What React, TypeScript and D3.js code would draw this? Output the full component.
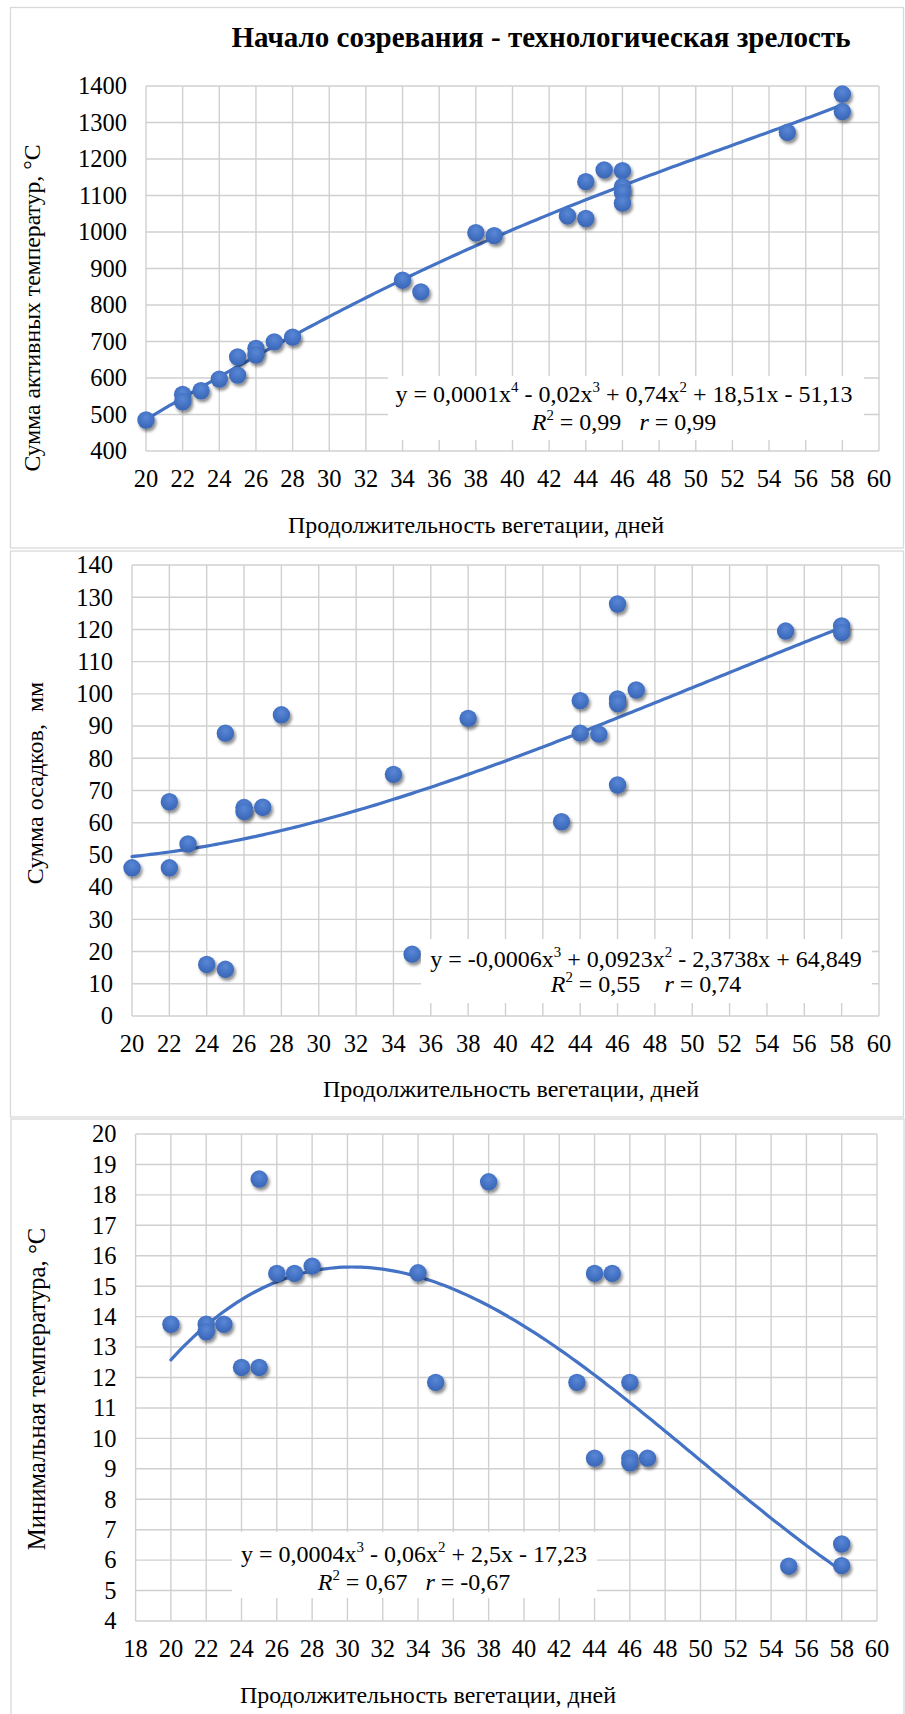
import React from "react";
import * as d3 from "d3";

const FONT = "'Liberation Serif', 'Times New Roman', 'DejaVu Serif', serif";
const BLUE = "#4472C4";
const GRID = "#d0d0d0";

// Sum of active temperatures vs. vegetation length
const activeDays = [20, 22, 22, 23, 24, 25, 25, 26, 26, 27, 28, 34, 35, 38, 39, 43, 44, 44, 45, 46, 46, 46, 46, 55, 58, 58];
const activeSums = [485, 555, 535, 565, 597, 658, 608, 681, 663, 699, 712, 868, 836, 998, 990, 1044, 1037, 1138, 1170, 1168, 1124, 1108, 1079, 1273, 1378, 1330];

// Precipitation sum vs. vegetation length
const rainDays = [20, 22, 22, 23, 24, 25, 25, 26, 26, 27, 28, 34, 35, 38, 43, 44, 44, 45, 46, 46, 46, 46, 47, 55, 58, 58];
const rainSums = [46, 66.5, 46, 53.4, 16, 14.5, 87.8, 64.7, 63.5, 64.8, 93.5, 75, 19.2, 92.4, 60.3, 97.9, 87.8, 87.5, 127.9, 98.4, 97, 71.7, 101.2, 119.5, 121.1, 119];
// cubic trend coefficients, constant term first
const rainTrendCoefs = [64.849, -2.3738, 0.0923, -0.0006];

// Minimal temperature vs. vegetation length
const minDays = [20, 22, 22, 23, 24, 25, 25, 26, 27, 28, 34, 35, 38, 43, 44, 44, 45, 46, 46, 46, 47, 55, 58, 58];
const minTemps = [13.75, 13.75, 13.5, 13.75, 12.33, 12.33, 18.52, 15.42, 15.42, 15.66, 15.44, 11.84, 18.43, 11.84, 15.42, 9.35, 15.42, 11.84, 9.35, 9.2, 9.35, 5.8, 6.53, 5.82];

// Axis ticks
const daysTicks20 = [20, 22, 24, 26, 28, 30, 32, 34, 36, 38, 40, 42, 44, 46, 48, 50, 52, 54, 56, 58, 60];
const daysTicks18 = [18, 20, 22, 24, 26, 28, 30, 32, 34, 36, 38, 40, 42, 44, 46, 48, 50, 52, 54, 56, 58, 60];
const activeTicks = [400, 500, 600, 700, 800, 900, 1000, 1100, 1200, 1300, 1400];
const rainTicks = [0, 10, 20, 30, 40, 50, 60, 70, 80, 90, 100, 110, 120, 130, 140];
const minTicks = [4, 5, 6, 7, 8, 9, 10, 11, 12, 13, 14, 15, 16, 17, 18, 19, 20];

const chartTitle = "Начало созревания - технологическая зрелость";
const xAxisTitle = "Продолжительность вегетации, дней";

type Seg = { t: string; sup?: boolean; it?: boolean };

// least-squares polynomial trend (x centred for numerical stability)
function polyFit(xs: number[], ys: number[], degree: number) {
  const c = 40, s = 20;
  const n = degree + 1;
  const A: number[][] = Array.from({ length: n }, () => new Array(n + 1).fill(0));
  xs.forEach((x, k) => {
    const t = (x - c) / s;
    for (let i = 0; i < n; i++) {
      for (let j = 0; j < n; j++) A[i][j] += Math.pow(t, i + j);
      A[i][n] += ys[k] * Math.pow(t, i);
    }
  });
  for (let col = 0; col < n; col++) {
    let piv = col;
    for (let r = col + 1; r < n; r++) if (Math.abs(A[r][col]) > Math.abs(A[piv][col])) piv = r;
    [A[col], A[piv]] = [A[piv], A[col]];
    for (let r = 0; r < n; r++) {
      if (r === col) continue;
      const f = A[r][col] / A[col][col];
      for (let k = col; k <= n; k++) A[r][k] -= f * A[col][k];
    }
  }
  const coef = A.map((row, i) => row[n] / row[i]);
  return (x: number) => {
    const t = (x - c) / s;
    return coef.reduce((acc, a, i) => acc + a * Math.pow(t, i), 0);
  };
}

const polyEval = (coefs: number[]) => (x: number) =>
  coefs.reduce((acc, a, i) => acc + a * Math.pow(x, i), 0);

function EqLine({ x, y, segs, size }: { x: number; y: number; segs: Seg[]; size: number }) {
  let raised = false;
  const shift = size * 0.4;
  return (
    <text x={x} y={y} textAnchor="middle" fontSize={size} style={{ whiteSpace: "pre" }}>
      {segs.map((sg, i) => {
        let dy = 0;
        if (sg.sup && !raised) { dy = -shift; raised = true; }
        else if (!sg.sup && raised) { dy = shift; raised = false; }
        return (
          <tspan key={i} dy={dy || undefined} fontSize={sg.sup ? size * 0.62 : undefined}
            fontStyle={sg.it ? "italic" : undefined}>{sg.t}</tspan>
        );
      })}
    </text>
  );
}

type PanelCfg = {
  frame: [number, number, number, number];
  plot: { l: number; r: number; t: number; b: number };
  xDom: [number, number];
  yDom: [number, number];
  xTicks: number[];
  yTicks: number[];
  xs: number[];
  ys: number[];
  trend: (x: number) => number;
  box: { x: number; y: number; w: number; h: number };
  eqX: number;
  eqY: [number, number];
  eq1: Seg[];
  eq2: Seg[];
  xTitle: { x: number; y: number };
  yTitle: { x: number; y: number; size: number; text: string };
};

function Panel({ cfg }: { cfg: PanelCfg }) {
  const { plot } = cfg;
  const x = d3.scaleLinear().domain(cfg.xDom).range([plot.l, plot.r]);
  const y = d3.scaleLinear().domain(cfg.yDom).range([plot.b, plot.t]);
  const lo = d3.min(cfg.xs)!, hi = d3.max(cfg.xs)!;
  const samples = d3.range(lo, hi + 0.001, 0.25);
  const line = d3.line<number>().x((d) => x(d)).y((d) => y(cfg.trend(d)))(samples) || "";
  return (
    <g>
      <rect x={cfg.frame[0]} y={cfg.frame[1]} width={cfg.frame[2]} height={cfg.frame[3]}
        fill="#fff" stroke="#d9d9d9" strokeWidth={1.3} />
      {cfg.xTicks.map((t) => (
        <line key={"vx" + t} x1={x(t)} x2={x(t)} y1={plot.t} y2={plot.b} stroke={GRID} strokeWidth={1.4} />
      ))}
      {cfg.yTicks.map((t) => (
        <line key={"hy" + t} x1={plot.l} x2={plot.r} y1={y(t)} y2={y(t)} stroke={GRID} strokeWidth={1.4} />
      ))}
      {cfg.yTicks.map((t) => (
        <text key={"ly" + t} x={plot.l - 19} y={y(t)} dy="0.34em" textAnchor="end" fontSize={24.5}>{t}</text>
      ))}
      {cfg.xTicks.map((t) => (
        <text key={"lx" + t} x={x(t)} y={plot.b + 36} textAnchor="middle" fontSize={24.5}>{t}</text>
      ))}
      <path d={line} fill="none" stroke={BLUE} strokeWidth={3.2} strokeLinecap="round" />
      {cfg.xs.map((d, i) => (
        <circle key={"p" + i} cx={x(d)} cy={y(cfg.ys[i])} r={8.7} fill="url(#mfill)" filter="url(#mshadow)" />
      ))}
      <rect x={cfg.box.x} y={cfg.box.y} width={cfg.box.w} height={cfg.box.h} fill="#fff" />
      <EqLine x={cfg.eqX} y={cfg.eqY[0]} segs={cfg.eq1} size={24} />
      <EqLine x={cfg.eqX} y={cfg.eqY[1]} segs={cfg.eq2} size={24} />
      <text x={cfg.xTitle.x} y={cfg.xTitle.y} textAnchor="middle" fontSize={24}>{xAxisTitle}</text>
      <text transform={`translate(${cfg.yTitle.x},${cfg.yTitle.y}) rotate(-90)`} textAnchor="middle"
        fontSize={cfg.yTitle.size} style={{ whiteSpace: "pre" }}>{cfg.yTitle.text}</text>
    </g>
  );
}

const panels: PanelCfg[] = [
  {
    frame: [10.5, 7.5, 893, 540.5],
    plot: { l: 146, r: 879, t: 86, b: 451 },
    xDom: [20, 60], yDom: [400, 1400],
    xTicks: daysTicks20, yTicks: activeTicks,
    xs: activeDays, ys: activeSums,
    trend: polyFit(activeDays, activeSums, 4),
    box: { x: 388, y: 376, w: 476, h: 64 },
    eqX: 624, eqY: [402, 430],
    eq1: [{ t: "y = 0,0001x" }, { t: "4", sup: true }, { t: " - 0,02x" }, { t: "3", sup: true },
      { t: " + 0,74x" }, { t: "2", sup: true }, { t: " + 18,51x - 51,13" }],
    eq2: [{ t: "R", it: true }, { t: "2", sup: true }, { t: " = 0,99   " }, { t: "r", it: true }, { t: " = 0,99" }],
    xTitle: { x: 476, y: 533 },
    yTitle: { x: 40, y: 308, size: 23.7, text: "Сумма активных температур, °C" },
  },
  {
    frame: [10.5, 551, 893, 566],
    plot: { l: 132, r: 879, t: 565, b: 1016 },
    xDom: [20, 60], yDom: [0, 140],
    xTicks: daysTicks20, yTicks: rainTicks,
    xs: rainDays, ys: rainSums,
    trend: polyEval(rainTrendCoefs),
    box: { x: 421, y: 939, w: 451, h: 64 },
    eqX: 646, eqY: [967, 992],
    eq1: [{ t: "y = -0,0006x" }, { t: "3", sup: true }, { t: " + 0,0923x" }, { t: "2", sup: true },
      { t: " - 2,3738x + 64,849" }],
    eq2: [{ t: "R", it: true }, { t: "2", sup: true }, { t: " = 0,55    " }, { t: "r", it: true }, { t: " = 0,74" }],
    xTitle: { x: 511, y: 1097 },
    yTitle: { x: 43, y: 783, size: 24, text: "Сумма осадков,  мм" },
  },
  {
    frame: [11, 1119, 893, 600],
    plot: { l: 135.6, r: 877, t: 1134, b: 1621 },
    xDom: [18, 60], yDom: [4, 20],
    xTicks: daysTicks18, yTicks: minTicks,
    xs: minDays, ys: minTemps,
    trend: polyFit(minDays, minTemps, 3),
    box: { x: 232, y: 1532, w: 365, h: 66 },
    eqX: 414, eqY: [1562, 1590],
    eq1: [{ t: "y = 0,0004x" }, { t: "3", sup: true }, { t: " - 0,06x" }, { t: "2", sup: true },
      { t: " + 2,5x - 17,23" }],
    eq2: [{ t: "R", it: true }, { t: "2", sup: true }, { t: " = 0,67   " }, { t: "r", it: true }, { t: " = -0,67" }],
    xTitle: { x: 428, y: 1703 },
    yTitle: { x: 45, y: 1389, size: 24.7, text: "Минимальная температура, °С" },
  },
];

export default function App() {
  return (
    <svg width={905} height={1714} viewBox="0 0 905 1714"
      style={{ position: "absolute", left: 0, top: 0, background: "#fff" }}
      fontFamily={FONT} fill="#000">
      <defs>
        <radialGradient id="mfill" cx="50%" cy="35%" r="65%">
          <stop offset="0%" stopColor="#5a87d6" />
          <stop offset="60%" stopColor={BLUE} />
          <stop offset="100%" stopColor="#3a65b2" />
        </radialGradient>
        <filter id="mshadow" x="-60%" y="-60%" width="220%" height="220%">
          <feDropShadow dx={1.8} dy={2.8} stdDeviation={1.6} floodColor="#000" floodOpacity={0.45} />
        </filter>
      </defs>
      <rect width={905} height={1714} fill="#fff" />
      {panels.map((p, i) => <Panel key={i} cfg={p} />)}
      <text x={541} y={47} textAnchor="middle" fontSize={29} fontWeight="bold">{chartTitle}</text>
    </svg>
  );
}
